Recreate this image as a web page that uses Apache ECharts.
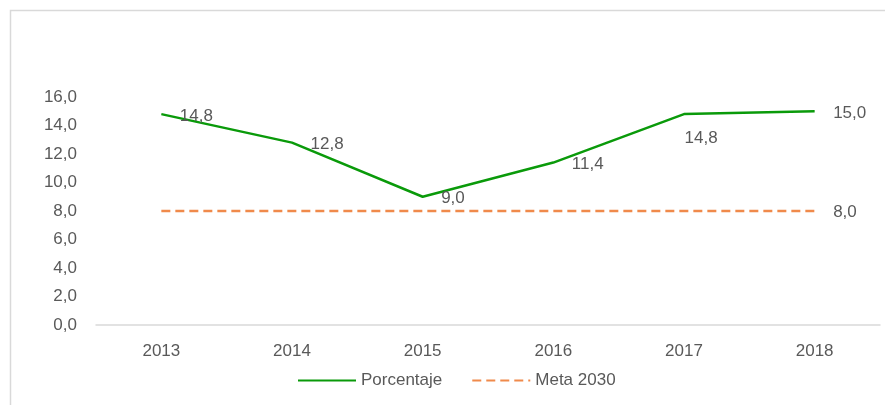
<!DOCTYPE html>
<html><head><meta charset="utf-8">
<script src="https://cdn.jsdelivr.net/npm/echarts@6/dist/echarts.min.js"></script>
<style>html,body{margin:0;padding:0;background:#fff}#c{width:885px;height:405px}</style>
</head><body><div id="c"></div>
<script>
const years = ['2013','2014','2015','2016','2017','2018'];
const porcentaje = [14.8, 12.8, 9.0, 11.4, 14.8, 15.0];
const meta2030 = [8.0, 8.0, 8.0, 8.0, 8.0, 8.0];
const yTicks = {min: 0, max: 16, interval: 2};

const fmt = v => v.toFixed(1).replace('.', ',');
const FONT = 'Liberation Sans';
const TXT = '#595959';

const chart = echarts.init(document.getElementById('c'));
chart.setOption({
  animation: false,
  textStyle: {fontFamily: FONT},
  graphic: [{type: 'rect', shape: {x: 10.5, y: 10.5, width: 1000, height: 1000},
    style: {fill: 'none', stroke: '#d9d9d9', lineWidth: 1.5}, silent: true}],
  grid: {left: 96, right: 5, top: 97, bottom: 80},
  legend: {
    left: 292, top: 367, itemWidth: 58, itemHeight: 3, itemGap: 29,
    textStyle: {color: TXT, fontSize: 17, fontFamily: FONT},
    data: ['Porcentaje', 'Meta 2030']
  },
  xAxis: {
    type: 'category', data: years, boundaryGap: true,
    axisLine: {lineStyle: {color: '#d9d9d9', width: 1.5}},
    axisTick: {show: false},
    axisLabel: {color: TXT, fontSize: 17, margin: 18, fontFamily: FONT}
  },
  yAxis: {
    type: 'value', min: yTicks.min, max: yTicks.max, interval: yTicks.interval,
    axisLine: {show: false}, axisTick: {show: false}, splitLine: {show: false},
    axisLabel: {color: TXT, fontSize: 17, margin: 19, fontFamily: FONT, formatter: v => fmt(v)}
  },
  series: [
    {
      name: 'Porcentaje', type: 'line', symbol: 'circle', symbolSize: 1, showSymbol: true,
      lineStyle: {color: '#0a9a0a', width: 2.5},
      itemStyle: {color: 'rgba(0,0,0,0)', borderWidth: 0},
      data: porcentaje.map((v, i) => i === 4
        ? {value: v, label: {offset: [-18, 24]}}
        : {value: v}),
      label: {show: true, position: 'right', distance: 18, offset: [0, 2], color: TXT, fontSize: 17,
        fontFamily: FONT, formatter: p => fmt(p.value)}
    },
    {
      name: 'Meta 2030', type: 'line', symbol: 'circle', symbolSize: 1, showSymbol: true,
      lineStyle: {color: '#f08a4b', width: 2.5, type: [9, 5]},
      itemStyle: {color: 'rgba(0,0,0,0)', borderWidth: 0},
      data: meta2030.map((v, i) => i === meta2030.length - 1
        ? {value: v, label: {show: true}}
        : {value: v}),
      label: {show: false, position: 'right', distance: 18, offset: [0, 1], color: TXT, fontSize: 17,
        fontFamily: FONT, formatter: p => fmt(p.value)}
    }
  ]
});
</script></body></html>
